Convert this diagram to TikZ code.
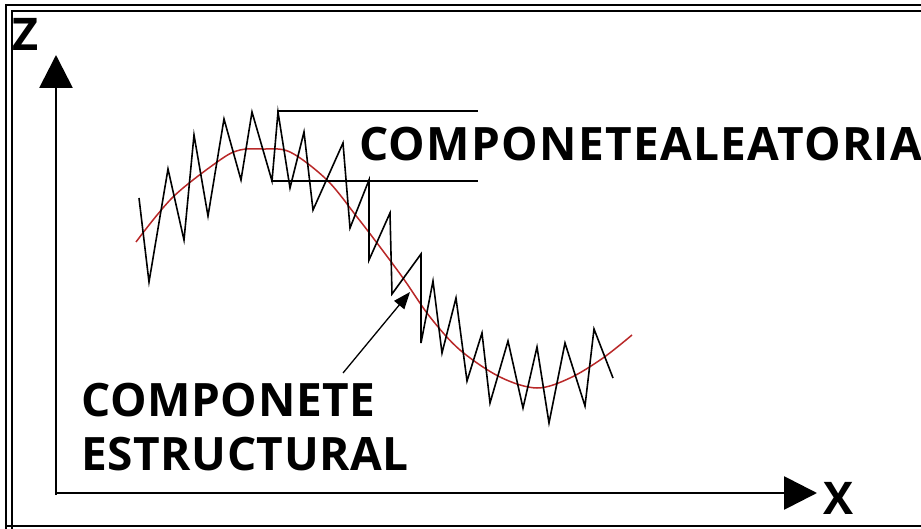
\documentclass[tikz,border=0pt]{standalone}
\usepackage{fontspec}
\setmainfont{Open Sans}
\usetikzlibrary{arrows.meta}
\tikzset{
  lbl/.style={inner sep=0pt, font=\bfseries\fontsize{46}{50}\selectfont\addfontfeatures{LetterSpace=2.8}},
  lblb/.style={inner sep=0pt, font=\bfseries\fontsize{46}{50}\selectfont\addfontfeatures{LetterSpace=1.3}},
  axislbl/.style={inner sep=0pt, font=\bfseries\fontsize{45}{48}\selectfont},
  axis/.style={line width=2.8pt, -{Triangle[width=33pt,length=33pt]}},
  frameline/.style={line width=2pt},
  zig/.style={line width=1.6pt, line join=miter},
  trend/.style={line width=1.5pt, color=trendred},
  bracket/.style={line width=1.3pt},
  pointer/.style={line width=1.3pt, -{Triangle[width=13pt,length=17pt]}}
}
\definecolor{trendred}{RGB}{185,40,40}
\begin{document}
\begin{tikzpicture}[x=1pt,y=-1pt]
\useasboundingbox (0,0) rectangle (921,529);
\clip (0,0) rectangle (921,529);
\fill[white] (0,0) rectangle (921,529);
% frame
\draw[frameline] (6,535) -- (6,5) -- (930,5);
\draw[frameline] (12,535) -- (12,11) -- (930,11);
\draw[frameline] (6,526) -- (930,526);
% axes
\coordinate (O) at (56,493);
\coordinate (Ztip) at (56,55);
\coordinate (Xtip) at (817,493);
\draw[axis] (56,495) -- (Ztip);
\draw[axis] (O) -- (Xtip);
\node[axislbl, anchor=base west] (Z) at (12,51) {Z};
\node[axislbl, anchor=base west] (X) at (823,514) {X};
% trend curve
\draw[trend] plot[smooth, tension=0.55] coordinates {
 (136,242) (173,197) (220,160) (240,150) (262,149) (290,152) (327,180)
 (357,217) (377,243) (403,278) (430,317) (460,350) (500,377) (537,388)
 (570,378) (603,358) (632,335)};
% zigzag
\draw[zig] (139,198) -- (149,282) -- (168,169) -- (184,240) -- (194,135)
 -- (208,216) -- (224,119) -- (241,180) -- (252,112) -- (272,181)
 -- (278,112) -- (290,188) -- (304,132) -- (313,210) -- (343,143)
 -- (350,228) -- (369,180) -- (369,260) -- (390,213) -- (392,294)
 -- (421,254) -- (421,343) -- (433,281) -- (442,353) -- (456,298)
 -- (467,381) -- (482,333) -- (490,403) -- (508,341) -- (523,408)
 -- (537,347) -- (549,423) -- (565,343) -- (585,406) -- (594,329)
 -- (613,378);
% bracket lines
\coordinate (bt1) at (277,111);
\coordinate (bt2) at (478,111);
\coordinate (bb1) at (271,181);
\coordinate (bb2) at (478,181);
\draw[bracket] (bt1) -- (bt2);
\draw[bracket] (bb1) -- (bb2);
% labels
\node[lbl, anchor=base west] (alea) at (359,161) {COMPONETEALEATORIA};
\node[lblb, anchor=base west] (est1) at (81,416) {COMPONETE};
\node[lblb, anchor=base west] (est2) at (81,470) {ESTRUCTURAL};
\coordinate (ptail) at (343,373);
\coordinate (ptip) at (410,292);
\draw[pointer] (ptail) -- (ptip);
\end{tikzpicture}
\end{document}
